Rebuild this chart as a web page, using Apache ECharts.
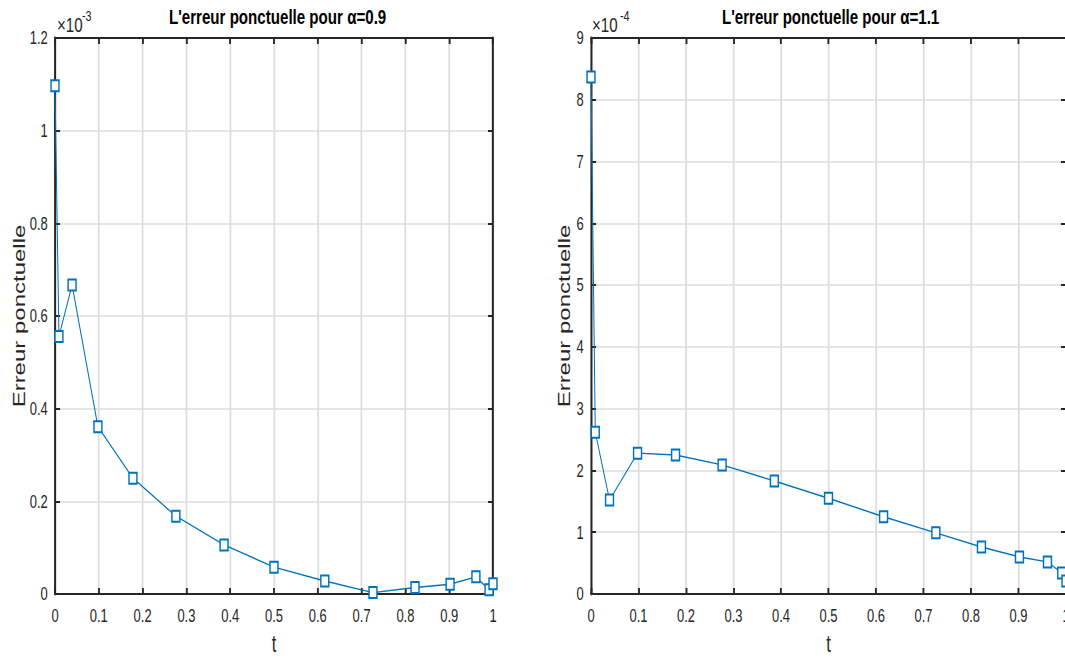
<!DOCTYPE html>
<html>
<head>
<meta charset="utf-8">
<script src="https://cdn.jsdelivr.net/npm/echarts@6/dist/echarts.min.js"></script>
<style>
html,body{margin:0;padding:0;background:#fff;overflow:hidden;width:1065px;height:659px;}
#wrap{width:1065px;height:659px;overflow:hidden;position:relative;}
#chart{width:1479px;height:659px;transform:scaleX(0.72);transform-origin:0 0;position:absolute;left:0;top:0;}
</style>
</head>
<body>
<div id="wrap"><div id="chart"></div></div>
<script>
// ---- data ----
const tNodes = [0, 0.009, 0.039, 0.098, 0.178, 0.276, 0.386, 0.5, 0.616, 0.726, 0.822, 0.902, 0.961, 0.991, 1];
const errAlpha09 = [1.097, 0.556, 0.667, 0.361, 0.250, 0.168, 0.106, 0.058, 0.028, 0.003, 0.014, 0.021, 0.037, 0.009, 0.022]; // x 1e-3
const errAlpha11 = [8.37, 2.62, 1.52, 2.28, 2.25, 2.09, 1.83, 1.55, 1.25, 0.99, 0.76, 0.60, 0.52, 0.34, 0.21];     // x 1e-4
const titles = ["L'erreur ponctuelle pour α=0.9", "L'erreur ponctuelle pour α=1.1"];
const exponents = ["-3", "-4"];
const yMax = [1.2, 9];
const yStep = [0.2, 1];
const xLabelName = 't';
const yLabelName = 'Erreur ponctuelle';

const FONT = 'Liberation Sans, Arial, sans-serif';
const TXT = '#262626';
const S = 0.72;
const chart = echarts.init(document.getElementById('chart'), null, {renderer: 'svg'});

const grids = [
  {left: 55 / S, top: 38, width: (493 - 55) / S, height: 556, containLabel: false, outerBoundsMode: 'none'},
  {left: 591 / S, top: 38, width: (1066 - 591) / S, height: 556, containLabel: false, outerBoundsMode: 'none'}
];
const fmt = v => String(Math.round(v * 10) / 10);

const xAxes = [], yAxes = [], series = [];
const nameGaps = [38, 26];
[0, 1].forEach(i => {
  xAxes.push({
    gridIndex: i, type: 'value', min: 0, max: 1, interval: 0.1, position: 'bottom',
    name: xLabelName, nameLocation: 'middle', nameGap: 38,
    nameTextStyle: {fontFamily: FONT, fontSize: 23, lineHeight: 23, color: TXT},
    axisLine: {show: true, onZero: false, lineStyle: {color: TXT, width: 2}},
    axisTick: {show: true, inside: true, length: 6, lineStyle: {color: TXT, width: 2.6}},
    axisLabel: {show: true, fontFamily: FONT, fontSize: 18, color: TXT, margin: 13, formatter: fmt},
    splitLine: {show: true, lineStyle: {color: '#dcdcdc', width: 2.4}}
  });
  xAxes.push({
    gridIndex: i, type: 'value', min: 0, max: 1, interval: 0.1, position: 'top',
    axisLine: {show: true, onZero: false, lineStyle: {color: TXT, width: 2}},
    axisTick: {show: true, inside: true, length: 6, lineStyle: {color: TXT, width: 2.6}},
    axisLabel: {show: false}, splitLine: {show: false}
  });
  yAxes.push({
    gridIndex: i, type: 'value', min: 0, max: yMax[i], interval: yStep[i], position: 'left',
    name: yLabelName, nameLocation: 'middle', nameGap: nameGaps[i],
    nameTextStyle: {fontFamily: FONT, fontSize: 24, color: TXT},
    axisLine: {show: true, onZero: false, lineStyle: {color: TXT, width: 2.8}},
    axisTick: {show: true, inside: true, length: 7, lineStyle: {color: TXT, width: 2}},
    axisLabel: {show: true, fontFamily: FONT, fontSize: 18, color: TXT, margin: 10, formatter: fmt},
    splitLine: {show: true, lineStyle: {color: '#dcdcdc', width: 1.6}}
  });
  yAxes.push({
    gridIndex: i, type: 'value', min: 0, max: yMax[i], interval: yStep[i], position: 'right',
    axisLine: {show: true, onZero: false, lineStyle: {color: TXT, width: 2.8}},
    axisTick: {show: true, inside: true, length: 7, lineStyle: {color: TXT, width: 2}},
    axisLabel: {show: false}, splitLine: {show: false}
  });
  const vals = i === 0 ? errAlpha09 : errAlpha11;
  series.push({
    type: 'line', xAxisIndex: i * 2, yAxisIndex: i * 2, clip: false,
    data: tNodes.map((t, k) => [t, vals[k]]),
    symbol: 'emptyRect', symbolSize: 11, showAllSymbol: true,
    lineStyle: {color: '#0072BD', width: 1.4},
    itemStyle: {color: '#0072BD', borderColor: '#0072BD', borderWidth: 1.15},
    emphasis: {disabled: true}, animation: false, z: 5
  });
});

const titleComps = [0, 1].map(i => ({
  text: titles[i], left: (i === 0 ? 274 : 827) / S, top: 1, textAlign: 'center',
  textStyle: {fontFamily: FONT, fontSize: 21, fontWeight: 'bold', color: '#000'}
}));

const graphic = [];
[[57, 82], [592, 620]].forEach((p, i) => {
  graphic.push({type: 'text', left: p[0] / S, top: 14,
    style: {text: '×10', font: '21px ' + FONT, fill: TXT}});
  graphic.push({type: 'text', left: p[1] / S, top: 8,
    style: {text: exponents[i], font: '15px ' + FONT, fill: TXT}});
});

chart.setOption({
  animation: false,
  backgroundColor: '#fff',
  title: titleComps,
  grid: grids,
  xAxis: xAxes,
  yAxis: yAxes,
  series: series,
  graphic: graphic
});
</script>
</body>
</html>
